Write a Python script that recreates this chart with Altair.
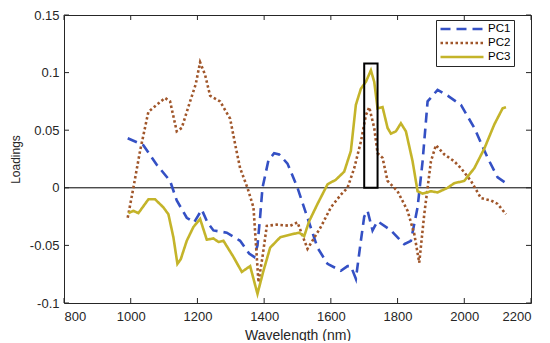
import altair as alt
import pandas as pd

# ---- data ----
series_names = ["PC1", "PC2", "PC3"]

pc1_nm = [991, 1038, 1078, 1118, 1138, 1168, 1190, 1213, 1230, 1248, 1288, 1328, 1355, 1370, 1380,
          1388, 1395, 1413, 1430, 1445, 1470, 1500, 1530, 1560, 1590, 1630, 1650, 1660, 1675, 1690,
          1700, 1710, 1725, 1740, 1780, 1820, 1840, 1860, 1875, 1890, 1920, 1950, 1990, 2030, 2070,
          2100, 2125]
pc1_val = [0.043, 0.037, 0.020, 0.006, -0.011, -0.026, -0.030, -0.019, -0.030, -0.037, -0.039, -0.046,
           -0.057, -0.060, -0.050, -0.025, 0.0, 0.024, 0.030, 0.029, 0.021, 0.0, -0.026, -0.052, -0.066,
           -0.072, -0.068, -0.068, -0.079, -0.046, -0.025, -0.020, -0.037, -0.029, -0.037, -0.049,
           -0.046, -0.017, 0.023, 0.075, 0.085, 0.080, 0.072, 0.052, 0.026, 0.009, 0.004]

pc2_nm = [991, 1008, 1028, 1053, 1078, 1103, 1118, 1138, 1153, 1178, 1195, 1208, 1223, 1238, 1268,
          1298, 1315, 1328, 1350, 1368, 1383, 1395, 1408, 1438, 1478, 1500, 1530, 1570, 1600, 1630,
          1650, 1670, 1690, 1705, 1715, 1730, 1740, 1755, 1770, 1800, 1830, 1850, 1865, 1880, 1900,
          1915, 1940, 1970, 1990, 2020, 2050, 2080, 2100, 2125]
pc2_val = [-0.026, 0.0, 0.032, 0.066, 0.072, 0.078, 0.075, 0.049, 0.052, 0.075, 0.090, 0.109, 0.098,
           0.080, 0.075, 0.060, 0.035, 0.017, 0.0, -0.017, -0.082, -0.060, -0.033, -0.032, -0.033,
           -0.030, -0.053, -0.034, -0.017, -0.006, 0.0, 0.017, 0.040, 0.063, 0.070, 0.052, 0.030,
           0.026, 0.006, -0.003, -0.020, -0.040, -0.065, -0.023, 0.023, 0.037, 0.029, 0.023, 0.017,
           0.006, -0.009, -0.011, -0.014, -0.023]

pc3_nm = [993, 1008, 1023, 1053, 1073, 1098, 1113, 1128, 1140, 1150, 1168, 1188, 1208, 1228, 1248,
          1263, 1278, 1308, 1333, 1358, 1380, 1398, 1418, 1448, 1488, 1505, 1520, 1535, 1560, 1590,
          1615, 1640, 1660, 1675, 1690, 1705, 1720, 1730, 1740, 1755, 1770, 1780, 1795, 1810, 1825,
          1845, 1860, 1875, 1900, 1920, 1950, 1970, 2000, 2030, 2060, 2090, 2115, 2125]
pc3_val = [-0.022, -0.020, -0.022, -0.010, -0.010, -0.017, -0.023, -0.043, -0.066, -0.062, -0.046,
           -0.034, -0.027, -0.045, -0.044, -0.047, -0.046, -0.060, -0.073, -0.068, -0.092, -0.072,
           -0.052, -0.043, -0.040, -0.039, -0.042, -0.029, -0.014, 0.003, 0.007, 0.014, 0.032, 0.072,
           0.086, 0.092, 0.102, 0.092, 0.069, 0.070, 0.052, 0.047, 0.049, 0.056, 0.049, 0.023, -0.003,
           -0.005, -0.003, -0.004, 0.0, 0.004, 0.006, 0.017, 0.034, 0.055, 0.069, 0.070]

# highlighted band (rectangle)
box_nm = [1700, 1740]
box_val = [0.0, 0.108]

x_ticks = [800, 1000, 1200, 1400, 1600, 1800, 2000, 2200]
y_ticks = [-0.1, -0.05, 0, 0.05, 0.1, 0.15]
zero_line = [0]

colors = ["#3450c4", "#a0562a", "#c4b42a"]
dashes = [[10, 6], [2.5, 2.5], [1, 0]]

W, H = 467, 288

rows = []
for name, xs, ys in zip(series_names, [pc1_nm, pc2_nm, pc3_nm], [pc1_val, pc2_val, pc3_val]):
    for a, b in zip(xs, ys):
        rows.append({"series": name, "nm": a, "val": b})
df = pd.DataFrame(rows)

xs = alt.Scale(domain=[800, 2200], nice=False, zero=False)
ys = alt.Scale(domain=[-0.1, 0.15], nice=False, zero=False)

x_axis = alt.Axis(values=x_ticks, title="Wavelength (nm)", grid=False, ticks=False, domain=False,
                  labelPadding=7, titlePadding=5, format="d", titleFontSize=14)
y_axis = alt.Axis(values=y_ticks, title="Loadings", grid=False, ticks=False, domain=False,
                  labelPadding=5, titlePadding=7, titleFontSize=12,
                  labelExpr="datum.value == 0 ? '0' : toString(round(datum.value*100)/100)")

lines = alt.Chart(df).mark_line(strokeWidth=2.6).encode(
    x=alt.X("nm:Q", scale=xs, axis=x_axis),
    y=alt.Y("val:Q", scale=ys, axis=y_axis),
    color=alt.Color("series:N", scale=alt.Scale(domain=series_names, range=colors),
                    legend=alt.Legend(title=None)),
    strokeDash=alt.StrokeDash("series:N", scale=alt.Scale(domain=series_names, range=dashes),
                              legend=alt.Legend(title=None)),
)

zero = alt.Chart(pd.DataFrame({"y": zero_line})).mark_rule(color="black", strokeWidth=1).encode(
    y=alt.Y("y:Q", scale=ys), x=alt.value(0), x2=alt.value(W))

box = alt.Chart(pd.DataFrame({"x": [box_nm[0]], "x2": [box_nm[1]], "y": [box_val[0]], "y2": [box_val[1]]})).mark_rect(
    fill=None, filled=False, stroke="black", strokeWidth=2).encode(
    x=alt.X("x:Q", scale=xs), x2="x2:Q", y=alt.Y("y:Q", scale=ys), y2="y2:Q")

xt = pd.DataFrame({"t": x_ticks})
yt = pd.DataFrame({"t": y_ticks})
tick_style = dict(color="#262626", strokeWidth=1)
xb = alt.Chart(xt).mark_rule(**tick_style).encode(x=alt.X("t:Q", scale=xs), y=alt.value(H), y2=alt.value(H - 5))
xtp = alt.Chart(xt).mark_rule(**tick_style).encode(x=alt.X("t:Q", scale=xs), y=alt.value(0), y2=alt.value(5))
yl = alt.Chart(yt).mark_rule(**tick_style).encode(y=alt.Y("t:Q", scale=ys), x=alt.value(0), x2=alt.value(5))
yr = alt.Chart(yt).mark_rule(**tick_style).encode(y=alt.Y("t:Q", scale=ys), x=alt.value(W), x2=alt.value(W - 5))

chart = alt.layer(zero, lines, box, xb, xtp, yl, yr).properties(
    width=W, height=H,
    autosize=alt.AutoSizeParams(type="none"),
    padding={"left": 56, "top": 7, "right": 10, "bottom": 38},
).configure_view(stroke="#262626", strokeWidth=1).configure_axis(
    labelFont="Liberation Sans", titleFont="Liberation Sans", labelFontSize=13,
    labelColor="#262626", titleColor="#262626", titleFontWeight="normal",
).configure_legend(
    orient="none", legendX=372, legendY=5, fillColor="white", strokeColor="#262626",
    padding=3, rowPadding=2, symbolType="stroke", symbolSize=1849, symbolStrokeWidth=2.5,
    clipHeight=12, labelFont="Liberation Sans", labelFontSize=11.5, labelColor="black", labelOffset=3,
    cornerRadius=0,
)

chart.save("out.html", embed_options={"renderer": "svg", "actions": False})
